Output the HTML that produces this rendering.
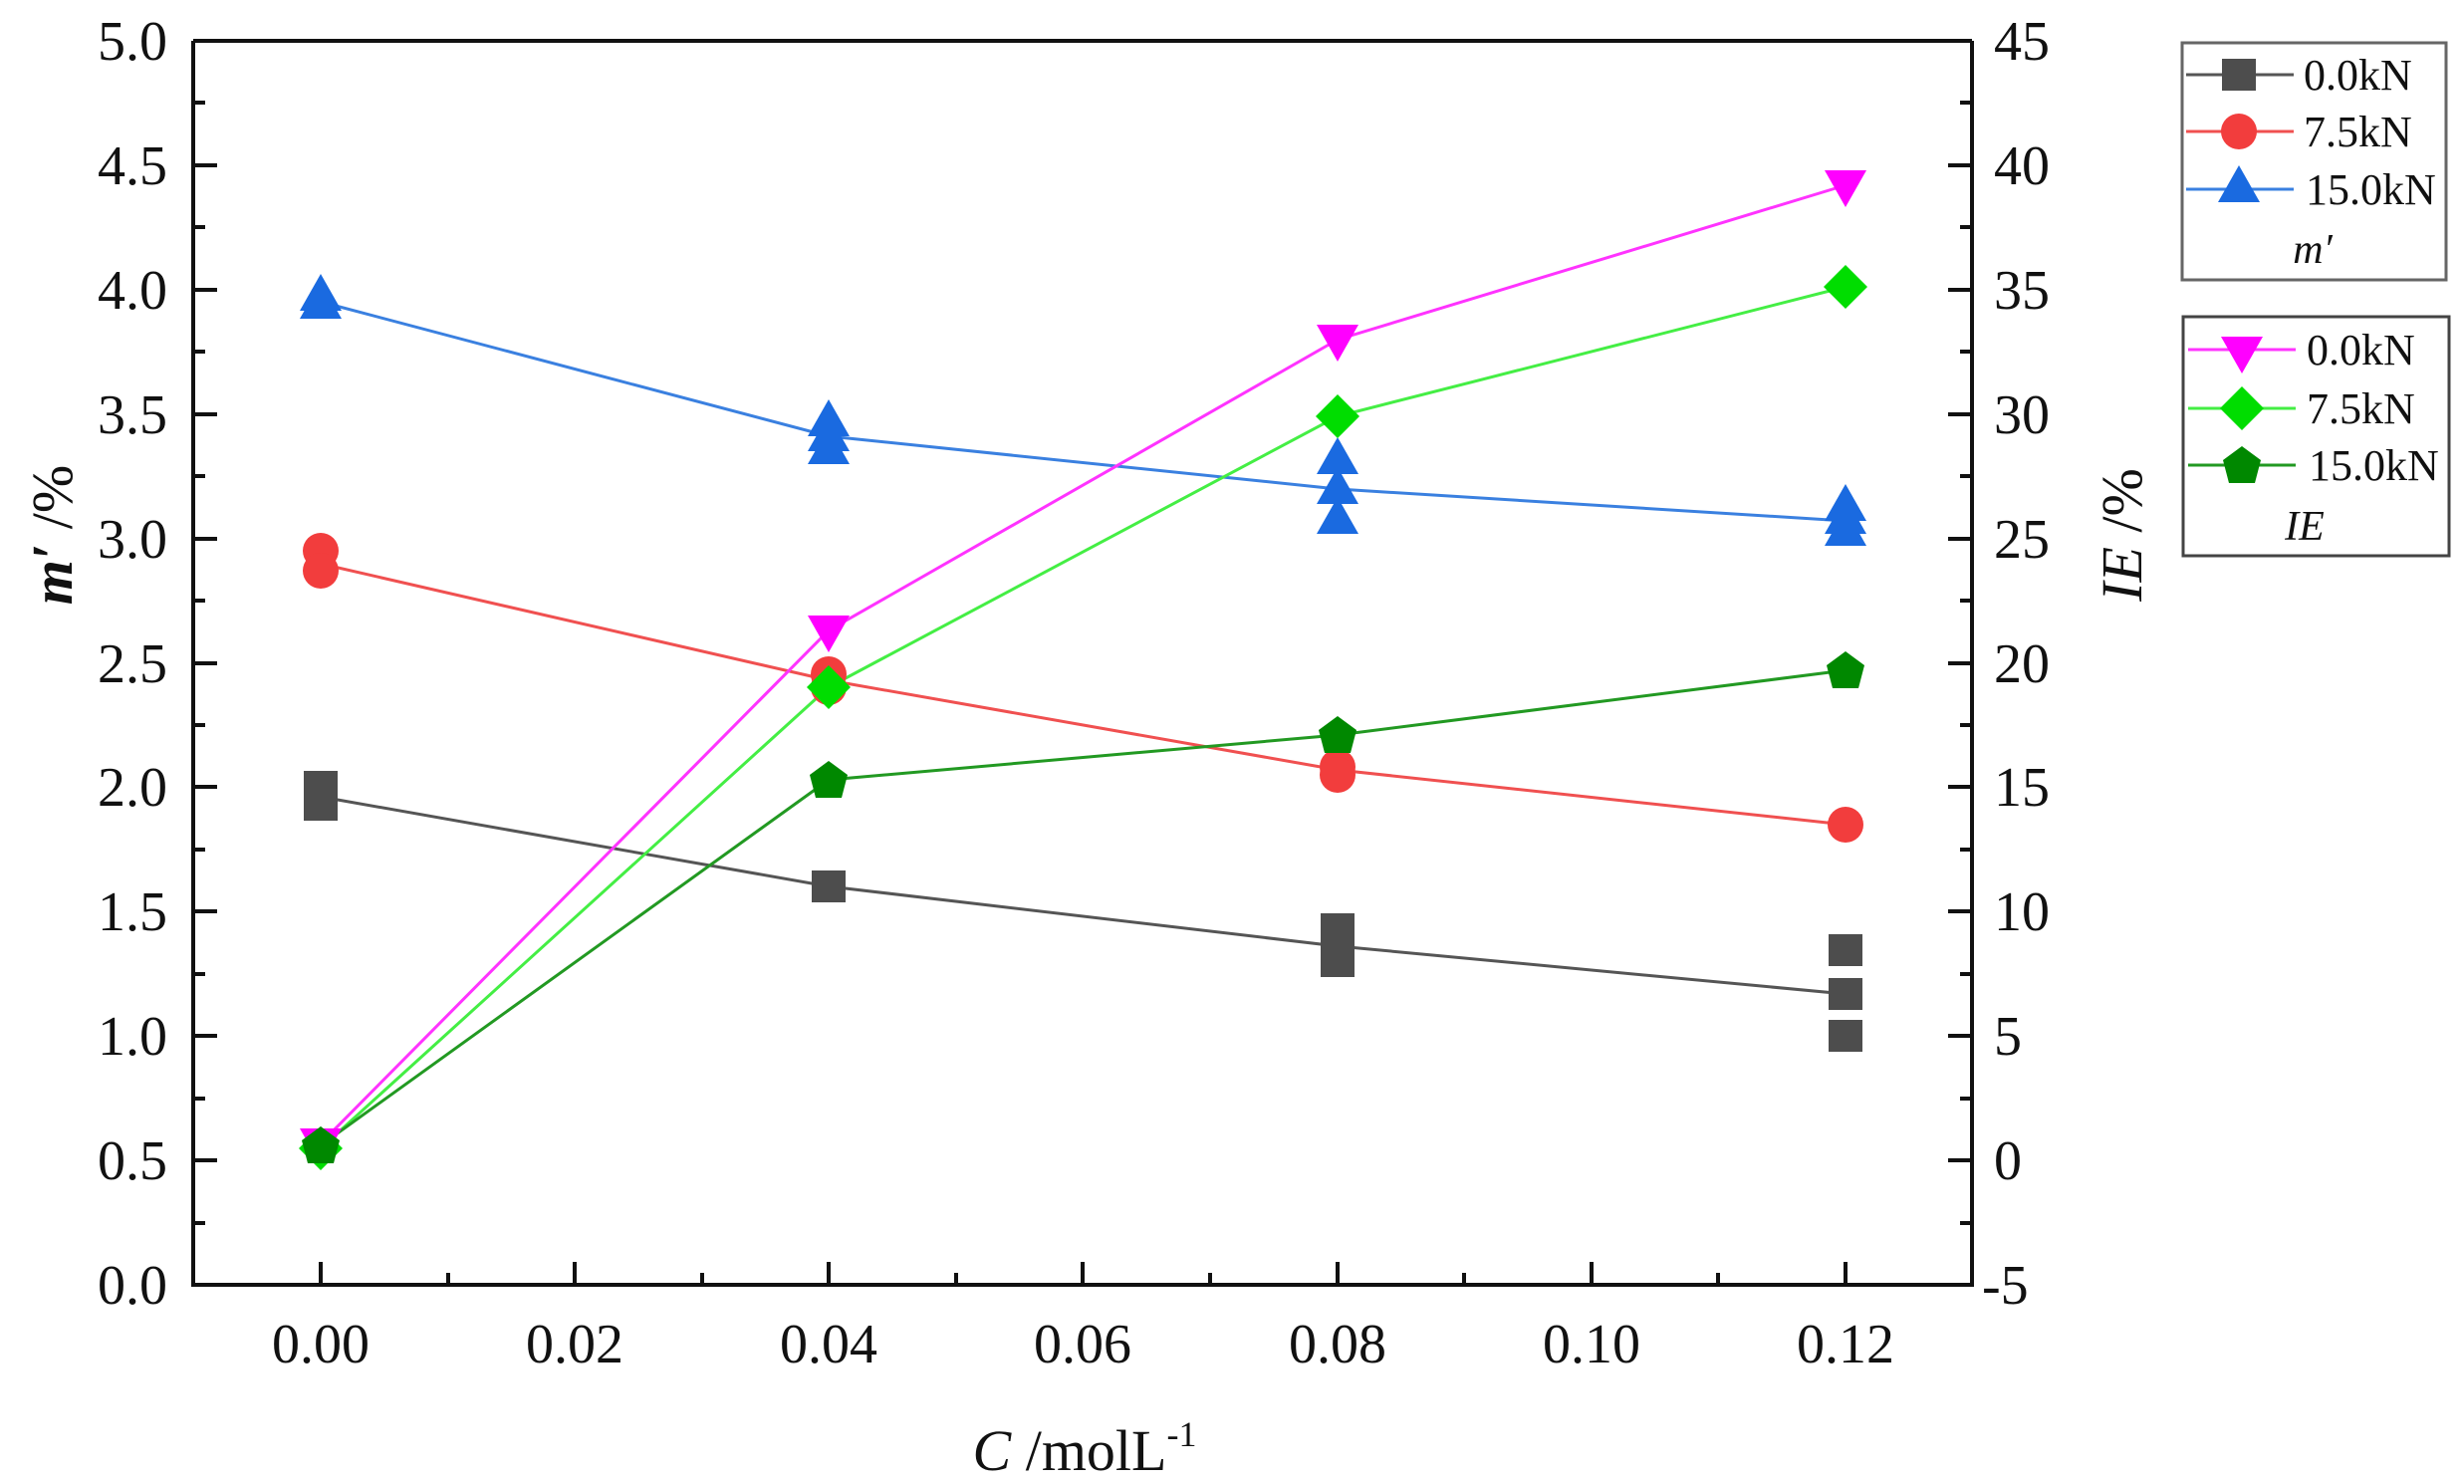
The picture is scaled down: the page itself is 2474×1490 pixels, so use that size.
<!DOCTYPE html>
<html><head><meta charset="utf-8"><style>
html,body{margin:0;padding:0;background:#fff;}
svg{display:block;}
text{font-family:"Liberation Serif",serif;fill:#111;}
</style></head><body>
<svg width="2474" height="1490" viewBox="0 0 2474 1490" xmlns="http://www.w3.org/2000/svg">
<defs>
<g id="sq"><rect x="-17" y="-16" width="34" height="32" fill="#4d4d4d"/></g>
<g id="ci"><circle r="18" fill="#f23d3d"/></g>
<g id="tu"><polygon points="0,-22 21,15 -21,15" fill="#1a6ae0"/></g>
<g id="td"><polygon points="0,22 21,-15 -21,-15" fill="#ff00ff"/></g>
<g id="di"><polygon points="0,-22 22,0 0,22 -22,0" fill="#00dd00"/></g>
<g id="pe"><polygon points="0,-19 19,-5 13,18 -13,18 -19,-5" fill="#008800"/></g>
</defs>

<!-- axes frame -->
<g stroke="#111" stroke-width="4" fill="none">
<line x1="194" y1="41" x2="1980" y2="41"/>
<line x1="194" y1="1290" x2="1980" y2="1290"/>
<line x1="194" y1="41" x2="194" y2="1292"/>
<line x1="1980" y1="41" x2="1980" y2="1292"/>
</g>
<!-- left ticks -->
<g stroke="#111" stroke-width="4">
<line x1="194" y1="41" x2="218" y2="41"/><line x1="194" y1="103" x2="206" y2="103"/>
<line x1="194" y1="166" x2="218" y2="166"/><line x1="194" y1="228" x2="206" y2="228"/>
<line x1="194" y1="291" x2="218" y2="291"/><line x1="194" y1="353" x2="206" y2="353"/>
<line x1="194" y1="416" x2="218" y2="416"/><line x1="194" y1="478" x2="206" y2="478"/>
<line x1="194" y1="541" x2="218" y2="541"/><line x1="194" y1="603" x2="206" y2="603"/>
<line x1="194" y1="666" x2="218" y2="666"/><line x1="194" y1="728" x2="206" y2="728"/>
<line x1="194" y1="790" x2="218" y2="790"/><line x1="194" y1="853" x2="206" y2="853"/>
<line x1="194" y1="915" x2="218" y2="915"/><line x1="194" y1="978" x2="206" y2="978"/>
<line x1="194" y1="1040" x2="218" y2="1040"/><line x1="194" y1="1103" x2="206" y2="1103"/>
<line x1="194" y1="1165" x2="218" y2="1165"/><line x1="194" y1="1228" x2="206" y2="1228"/>
<!-- right ticks -->
<line x1="1980" y1="41" x2="1956" y2="41"/><line x1="1980" y1="103" x2="1968" y2="103"/>
<line x1="1980" y1="166" x2="1956" y2="166"/><line x1="1980" y1="228" x2="1968" y2="228"/>
<line x1="1980" y1="291" x2="1956" y2="291"/><line x1="1980" y1="353" x2="1968" y2="353"/>
<line x1="1980" y1="416" x2="1956" y2="416"/><line x1="1980" y1="478" x2="1968" y2="478"/>
<line x1="1980" y1="541" x2="1956" y2="541"/><line x1="1980" y1="603" x2="1968" y2="603"/>
<line x1="1980" y1="666" x2="1956" y2="666"/><line x1="1980" y1="728" x2="1968" y2="728"/>
<line x1="1980" y1="790" x2="1956" y2="790"/><line x1="1980" y1="853" x2="1968" y2="853"/>
<line x1="1980" y1="915" x2="1956" y2="915"/><line x1="1980" y1="978" x2="1968" y2="978"/>
<line x1="1980" y1="1040" x2="1956" y2="1040"/><line x1="1980" y1="1103" x2="1968" y2="1103"/>
<line x1="1980" y1="1165" x2="1956" y2="1165"/><line x1="1980" y1="1228" x2="1968" y2="1228"/>
<!-- bottom ticks -->
<line x1="322" y1="1290" x2="322" y2="1267"/><line x1="450" y1="1290" x2="450" y2="1278"/>
<line x1="577" y1="1290" x2="577" y2="1267"/><line x1="705" y1="1290" x2="705" y2="1278"/>
<line x1="832" y1="1290" x2="832" y2="1267"/><line x1="960" y1="1290" x2="960" y2="1278"/>
<line x1="1087" y1="1290" x2="1087" y2="1267"/><line x1="1215" y1="1290" x2="1215" y2="1278"/>
<line x1="1343" y1="1290" x2="1343" y2="1267"/><line x1="1470" y1="1290" x2="1470" y2="1278"/>
<line x1="1598" y1="1290" x2="1598" y2="1267"/><line x1="1725" y1="1290" x2="1725" y2="1278"/>
<line x1="1853" y1="1290" x2="1853" y2="1267"/>
</g>

<!-- left labels -->
<g font-size="56" text-anchor="end">
<text x="168" y="60">5.0</text><text x="168" y="185">4.5</text><text x="168" y="310">4.0</text>
<text x="168" y="435">3.5</text><text x="168" y="560">3.0</text><text x="168" y="685">2.5</text>
<text x="168" y="809">2.0</text><text x="168" y="934">1.5</text><text x="168" y="1059">1.0</text>
<text x="168" y="1184">0.5</text><text x="168" y="1309">0.0</text>
</g>
<!-- right labels -->
<g font-size="56" text-anchor="start">
<text x="2002" y="60">45</text><text x="2002" y="185">40</text><text x="2002" y="310">35</text>
<text x="2002" y="435">30</text><text x="2002" y="560">25</text><text x="2002" y="685">20</text>
<text x="2002" y="809">15</text><text x="2002" y="934">10</text><text x="2002" y="1059">5</text>
<text x="2002" y="1184">0</text><text x="1990" y="1309">-5</text>
</g>
<!-- bottom labels -->
<g font-size="56" text-anchor="middle">
<text x="322" y="1368">0.00</text><text x="577" y="1368">0.02</text><text x="832" y="1368">0.04</text>
<text x="1087" y="1368">0.06</text><text x="1343" y="1368">0.08</text><text x="1598" y="1368">0.10</text>
<text x="1853" y="1368">0.12</text>
</g>
<text x="1089" y="1476" font-size="58" text-anchor="middle"><tspan font-style="italic">C</tspan> /molL<tspan font-size="36" dy="-24">-1</tspan></text>
<text transform="translate(72,537) rotate(-90)" font-size="58" text-anchor="middle"><tspan font-style="italic" font-weight="bold">m′</tspan> /%</text>
<text transform="translate(2150,537) rotate(-90)" font-size="58" text-anchor="middle"><tspan font-style="italic">IE</tspan> /%</text>

<!-- lines -->
<g fill="none" stroke-width="3">
<polyline stroke="#555" points="322,800 832,890 1343,950 1853,998"/>
<polyline stroke="#f05050" points="322,566 832,683 1343,773 1853,828"/>
<polyline stroke="#3a80e0" points="322,303 832,438 1343,491 1853,523"/>
<polyline stroke="#ff33ff" points="322,1148 832,633 1343,341 1853,186"/>
<polyline stroke="#44ee44" points="322,1153 832,690 1343,418 1853,288"/>
<polyline stroke="#229922" points="322,1150 832,783 1343,738 1853,673"/>
</g>
<!-- markers -->
<use href="#sq" x="322" y="790"/><use href="#sq" x="322" y="808"/>
<use href="#sq" x="832" y="890"/>
<use href="#sq" x="1343" y="965"/><use href="#sq" x="1343" y="948"/><use href="#sq" x="1343" y="933"/>
<use href="#sq" x="1853" y="954"/><use href="#sq" x="1853" y="998"/><use href="#sq" x="1853" y="1040"/>

<use href="#ci" x="322" y="553"/><use href="#ci" x="322" y="573"/>
<use href="#ci" x="832" y="677"/><use href="#ci" x="832" y="690"/>
<use href="#ci" x="1343" y="770"/><use href="#ci" x="1343" y="778"/>
<use href="#ci" x="1853" y="828"/>

<use href="#tu" x="322" y="305"/><use href="#tu" x="322" y="297"/>
<use href="#tu" x="832" y="451"/><use href="#tu" x="832" y="438"/><use href="#tu" x="832" y="423"/>
<use href="#tu" x="1343" y="521"/><use href="#tu" x="1343" y="491"/><use href="#tu" x="1343" y="461"/>
<use href="#tu" x="1853" y="533"/><use href="#tu" x="1853" y="521"/><use href="#tu" x="1853" y="508"/>

<use href="#td" x="322" y="1148"/><use href="#td" x="832" y="633"/><use href="#td" x="1343" y="341"/><use href="#td" x="1853" y="186"/>
<use href="#di" x="322" y="1153"/><use href="#di" x="832" y="690"/><use href="#di" x="1343" y="418"/><use href="#di" x="1853" y="288"/>
<use href="#pe" x="322" y="1150"/><use href="#pe" x="832" y="783"/><use href="#pe" x="1343" y="738"/><use href="#pe" x="1853" y="673"/>

<!-- legends -->
<rect x="2191" y="43" width="265" height="238" fill="#fff" stroke="#666" stroke-width="3"/>
<rect x="2192" y="318" width="267" height="240" fill="#fff" stroke="#444" stroke-width="3"/>
<g stroke-width="3">
<line x1="2195" y1="75" x2="2303" y2="75" stroke="#555"/>
<line x1="2195" y1="132" x2="2303" y2="132" stroke="#f05050"/>
<line x1="2195" y1="190" x2="2303" y2="190" stroke="#3a80e0"/>
<line x1="2197" y1="351" x2="2305" y2="351" stroke="#ff33ff"/>
<line x1="2197" y1="410" x2="2305" y2="410" stroke="#44ee44"/>
<line x1="2197" y1="467" x2="2305" y2="467" stroke="#229922"/>
</g>
<use href="#sq" x="2248" y="75"/><use href="#ci" x="2248" y="132"/><use href="#tu" x="2248" y="188"/>
<use href="#td" x="2251" y="353"/><use href="#di" x="2251" y="410"/><use href="#pe" x="2251" y="467"/>
<g font-size="44">
<text x="2313" y="90">0.0kN</text><text x="2313" y="147">7.5kN</text><text x="2315" y="205">15.0kN</text>
<text x="2316" y="366">0.0kN</text><text x="2316" y="425">7.5kN</text><text x="2318" y="482">15.0kN</text>
</g>
<text x="2322" y="264" font-size="42" font-style="italic" text-anchor="middle">m′</text>
<text x="2314" y="542" font-size="42" font-style="italic" text-anchor="middle">IE</text>
</svg>
</body></html>
